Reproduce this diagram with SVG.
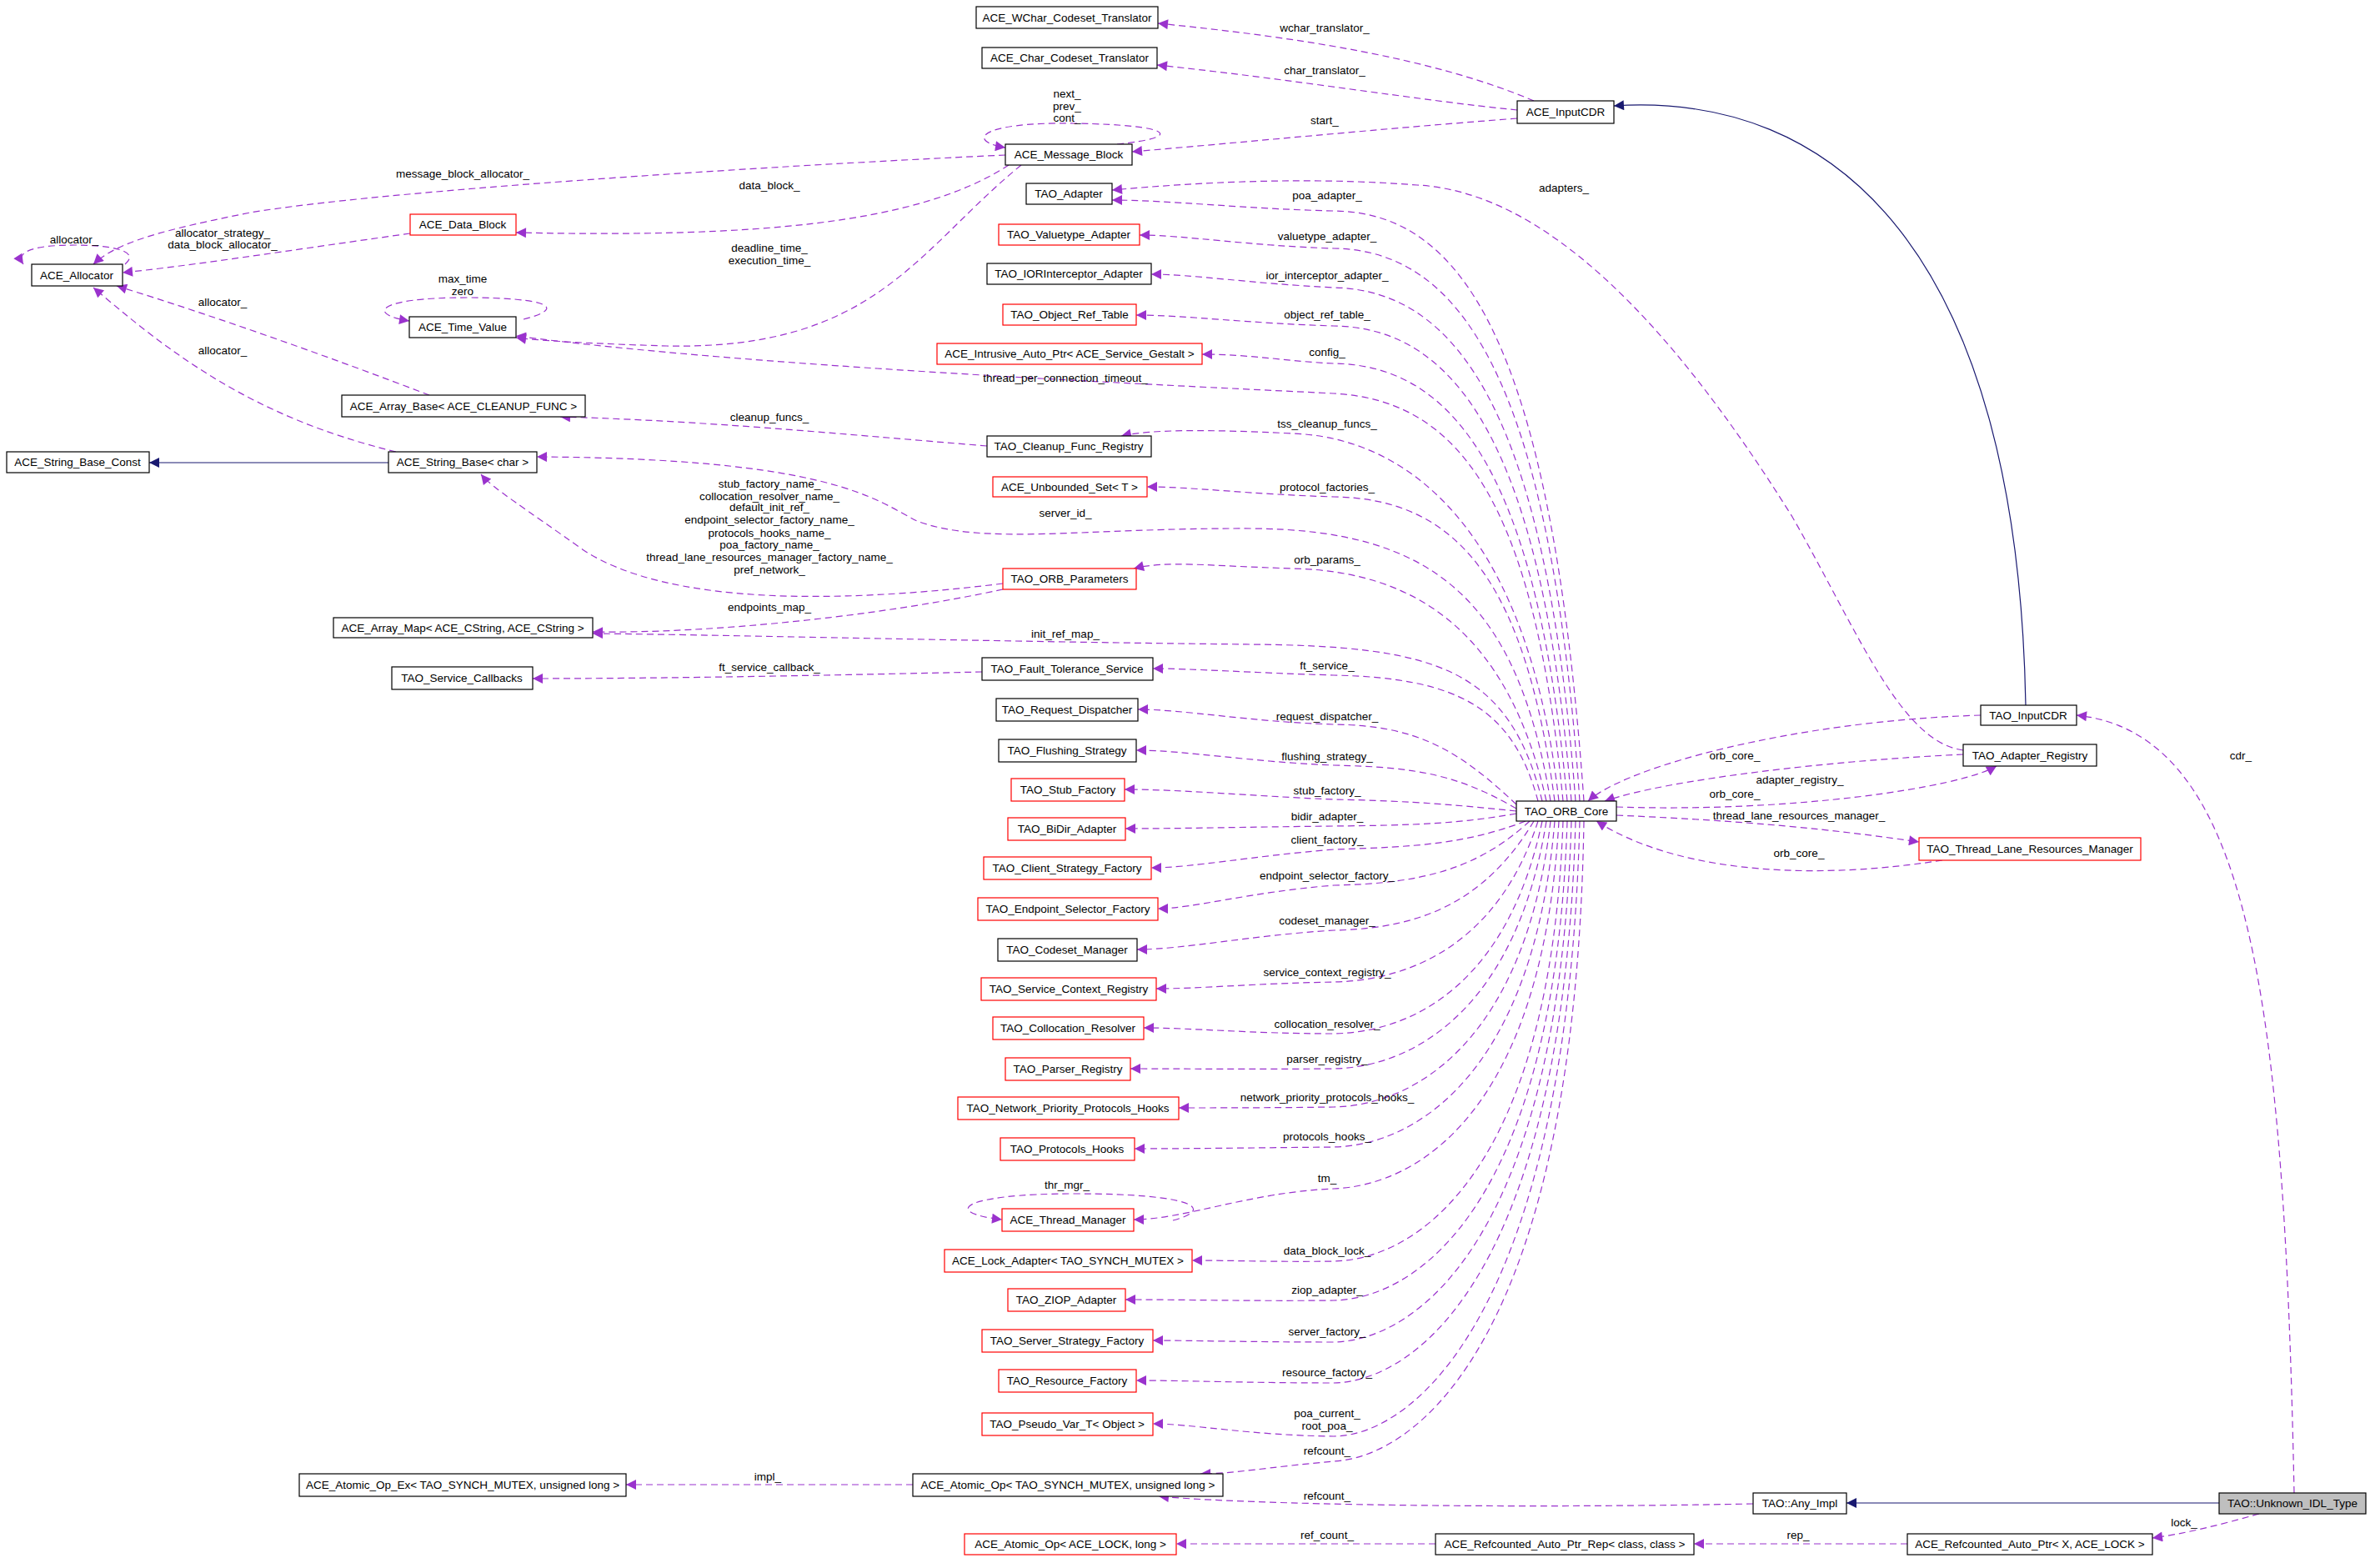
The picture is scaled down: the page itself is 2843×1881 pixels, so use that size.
<svg xmlns="http://www.w3.org/2000/svg" width="2843" height="1881" viewBox="0 0 2843 1881">
<defs>
<style>
text{font-family:"Liberation Sans",Arial,sans-serif;font-size:13.5px;fill:#000}
.n rect{fill:#fff;stroke:#000;stroke-width:1.2}
.r rect{stroke:#f00}
.g rect{fill:#bfbfbf}
.n text{text-anchor:middle}
.e path{fill:none;stroke:#9a32cd;stroke-width:1.2;stroke-dasharray:8,5;marker-end:url(#pa)}
.e path.i{stroke:#191970;stroke-dasharray:none;marker-end:url(#na)}
.l text{text-anchor:middle}
</style>
<marker id="pa" viewBox="0 0 10 10" refX="10" refY="5" markerWidth="16" markerHeight="12" markerUnits="userSpaceOnUse" orient="auto"><path d="M0,0L10,5L0,10z" fill="#9a32cd"/></marker>
<marker id="na" viewBox="0 0 10 10" refX="10" refY="5" markerWidth="16" markerHeight="12" markerUnits="userSpaceOnUse" orient="auto"><path d="M0,0L10,5L0,10z" fill="#191970"/></marker>
</defs>
<rect width="2843" height="1881" fill="#fff"/>
<g class="e">
<path d="M1840,121 C1720,70 1560,45 1389,28"/>
<path d="M1820,132 C1700,120 1550,95 1388,78"/>
<path d="M1820,142 C1650,155 1500,170 1358,182"/>
<path class="i" d="M2430,846 C2420,300 2200,110 1936,127"/>
<path d="M1340,173 C1420,165 1410,150 1290,148 C1170,146 1160,170 1206,177"/>
<path d="M1206,186 C900,200 450,230 300,255 C200,275 140,290 112,317"/>
<path d="M1210,198 C1100,270 900,285 619,279"/>
<path d="M1225,198 C1100,300 1050,420 800,415 C700,412 640,408 619,405"/>
<path d="M492,280 C350,300 220,320 147,327"/>
<path d="M150,317 C170,300 130,294 90,294 C30,294 20,305 28,317"/>
<path d="M515,474 C400,430 260,380 140,343"/>
<path d="M475,542 C300,500 200,420 112,345"/>
<path class="i" d="M466,555 L179,555"/>
<path d="M1184,535 C1000,520 850,505 672,500"/>
<path d="M628,383 C680,370 660,357 560,357 C450,357 440,377 491,385"/>
<path d="M1203,700 C1000,725 800,725 700,660 C630,610 590,585 577,569"/>
<path d="M1203,707 C1050,740 850,760 711,758"/>
<path d="M1178,806 C1000,810 800,814 639,814"/>
<path d="M1095,1781 L751,1781"/>
<path d="M2103,1804 C1800,1810 1500,1805 1390,1795"/>
<path d="M1722,1852 L1411,1852"/>
<path d="M2288,1852 L2032,1852"/>
<path d="M2710,1816 C2660,1830 2620,1840 2582,1845"/>
<path class="i" d="M2662,1803 L2215,1803"/>
<path d="M2752,1791 C2740,1200 2700,880 2491,858"/>
<path d="M2376,858 C2150,865 1950,920 1905,961"/>
<path d="M2355,905 C2200,912 2000,935 1925,961"/>
<path d="M1939,968 C2150,975 2350,945 2395,919"/>
<path d="M2355,900 C2280,890 2230,760 2150,620 C2000,380 1850,230 1700,222 C1550,210 1400,222 1334,228"/>
<path d="M1939,978 C2100,985 2200,995 2302,1010"/>
<path d="M2330,1032 C2150,1060 2000,1040 1915,985"/>
<path d="M1900,961 C1860,400 1750,255 1600,253 C1500,251 1400,240 1334,240"/>
<path d="M1895,961 C1860,450 1750,300 1600,298 C1500,295 1420,282 1367,282"/>
<path d="M1890,961 C1855,500 1750,348 1600,345 C1500,340 1430,329 1381,329"/>
<path d="M1885,961 C1850,540 1750,393 1600,391 C1500,388 1420,378 1363,378"/>
<path d="M1880,961 C1845,580 1750,438 1600,436 C1550,434 1500,425 1442,425"/>
<path d="M1875,961 C1840,600 1750,480 1600,472 C1400,462 900,440 619,403"/>
<path d="M1870,961 C1835,650 1700,525 1550,520 C1450,515 1380,515 1345,523"/>
<path d="M1865,961 C1830,700 1750,598 1600,596 C1500,593 1430,584 1376,584"/>
<path d="M1860,961 C1820,720 1720,635 1500,634 C1300,633 1180,655 1100,625 C1050,600 1000,550 644,548"/>
<path d="M1855,961 C1810,760 1700,685 1550,682 C1450,679 1400,672 1360,682"/>
<path d="M1850,961 C1810,800 1720,775 1500,773 C1200,770 900,762 711,760"/>
<path d="M1845,961 C1815,850 1750,813 1600,810 C1500,807 1430,802 1383,802"/>
<path d="M1819,965 C1750,900 1700,870 1600,869 C1500,866 1420,851 1365,851"/>
<path d="M1819,970 C1750,930 1700,920 1600,918 C1500,914 1420,900 1363,900"/>
<path d="M1819,973 C1750,966 1700,961 1600,959 C1500,955 1420,947 1349,947"/>
<path d="M1819,976 C1750,988 1700,990 1600,991 C1500,992 1420,994 1350,994"/>
<path d="M1830,985 C1760,1012 1700,1016 1600,1019 C1500,1027 1430,1041 1381,1041"/>
<path d="M1835,985 C1770,1045 1700,1060 1600,1062 C1500,1070 1430,1090 1389,1090"/>
<path d="M1840,985 C1780,1085 1700,1114 1600,1116 C1500,1122 1420,1139 1364,1139"/>
<path d="M1845,985 C1800,1125 1700,1176 1600,1178 C1500,1180 1440,1186 1387,1186"/>
<path d="M1850,985 C1810,1175 1700,1238 1600,1240 C1500,1240 1430,1233 1372,1233"/>
<path d="M1855,985 C1820,1205 1700,1280 1600,1282 C1500,1283 1420,1282 1356,1282"/>
<path d="M1860,985 C1830,1245 1700,1326 1600,1328 C1520,1329 1460,1329 1414,1329"/>
<path d="M1865,985 C1840,1285 1700,1374 1600,1376 C1500,1377 1420,1378 1361,1378"/>
<path d="M1870,985 C1850,1335 1700,1422 1600,1426 C1500,1430 1420,1463 1360,1463"/>
<path d="M1407,1464 C1460,1450 1430,1432 1290,1432 C1150,1432 1130,1455 1202,1463"/>
<path d="M1875,985 C1860,1405 1700,1511 1600,1513 C1530,1514 1480,1512 1430,1512"/>
<path d="M1880,985 C1865,1445 1700,1558 1600,1560 C1500,1561 1420,1559 1350,1559"/>
<path d="M1885,985 C1870,1485 1700,1608 1600,1610 C1500,1610 1430,1608 1383,1608"/>
<path d="M1890,985 C1875,1525 1700,1657 1600,1659 C1500,1659 1420,1656 1363,1656"/>
<path d="M1895,985 C1880,1565 1700,1722 1600,1723 C1500,1722 1430,1708 1383,1708"/>
<path d="M1900,985 C1890,1605 1700,1748 1600,1753 C1520,1760 1480,1768 1440,1768"/>
</g>
<g class="l">
<text x="1589" y="38">wchar_translator_</text>
<text x="1589" y="89">char_translator_</text>
<text x="1589" y="149">start_</text>
<text x="1280" y="117">next_</text><text x="1280" y="132">prev_</text><text x="1280" y="146">cont_</text>
<text x="555" y="213">message_block_allocator_</text>
<text x="923" y="227">data_block_</text>
<text x="89" y="292">allocator_</text>
<text x="267" y="284">allocator_strategy_</text><text x="267" y="298">data_block_allocator_</text>
<text x="923" y="302">deadline_time_</text><text x="923" y="317">execution_time_</text>
<text x="555" y="339">max_time</text><text x="555" y="354">zero</text>
<text x="267" y="367">allocator_</text>
<text x="267" y="425">allocator_</text>
<text x="923" y="505">cleanup_funcs_</text>
<text x="923" y="585">stub_factory_name_</text>
<text x="923" y="600">collocation_resolver_name_</text>
<text x="923" y="613">default_init_ref_</text>
<text x="923" y="628">endpoint_selector_factory_name_</text>
<text x="923" y="644">protocols_hooks_name_</text>
<text x="923" y="658">poa_factory_name_</text>
<text x="923" y="673">thread_lane_resources_manager_factory_name_</text>
<text x="923" y="688">pref_network_</text>
<text x="923" y="733">endpoints_map_</text>
<text x="923" y="805">ft_service_callback_</text>
<text x="1278" y="458">thread_per_connection_timeout_</text>
<text x="1278" y="620">server_id_</text>
<text x="1278" y="765">init_ref_map_</text>
<text x="1876" y="230">adapters_</text>
<text x="1592" y="239">poa_adapter_</text>
<text x="1592" y="288">valuetype_adapter_</text>
<text x="1592" y="335">ior_interceptor_adapter_</text>
<text x="1592" y="382">object_ref_table_</text>
<text x="1592" y="427">config_</text>
<text x="1592" y="513">tss_cleanup_funcs_</text>
<text x="1592" y="589">protocol_factories_</text>
<text x="1592" y="676">orb_params_</text>
<text x="1592" y="803">ft_service_</text>
<text x="1592" y="864">request_dispatcher_</text>
<text x="1592" y="912">flushing_strategy_</text>
<text x="1592" y="953">stub_factory_</text>
<text x="1592" y="984">bidir_adapter_</text>
<text x="1592" y="1012">client_factory_</text>
<text x="1592" y="1055">endpoint_selector_factory_</text>
<text x="1592" y="1109">codeset_manager_</text>
<text x="1592" y="1171">service_context_registry_</text>
<text x="1592" y="1233">collocation_resolver_</text>
<text x="1592" y="1275">parser_registry_</text>
<text x="1592" y="1321">network_priority_protocols_hooks_</text>
<text x="1592" y="1368">protocols_hooks_</text>
<text x="1592" y="1418">tm_</text>
<text x="1280" y="1426">thr_mgr_</text>
<text x="1592" y="1505">data_block_lock_</text>
<text x="1592" y="1552">ziop_adapter_</text>
<text x="1592" y="1602">server_factory_</text>
<text x="1592" y="1651">resource_factory_</text>
<text x="1592" y="1700">poa_current_</text><text x="1592" y="1715">root_poa_</text>
<text x="1592" y="1745">refcount_</text>
<text x="921" y="1776">impl_</text>
<text x="1592" y="1799">refcount_</text>
<text x="1592" y="1846">ref_count_</text>
<text x="2157" y="1846">rep_</text>
<text x="2620" y="1831">lock_</text>
<text x="2688" y="911">cdr_</text>
<text x="2081" y="911">orb_core_</text>
<text x="2081" y="957">orb_core_</text>
<text x="2159" y="940">adapter_registry_</text>
<text x="2158" y="983">thread_lane_resources_manager_</text>
<text x="2158" y="1028">orb_core_</text>
</g>
<g id="n_wchar" class="n"><rect x="1171" y="8" width="218" height="26"/><text x="1280" y="26">ACE_WChar_Codeset_Translator</text></g>
<g id="n_char" class="n"><rect x="1178" y="57" width="210" height="25"/><text x="1283" y="74">ACE_Char_Codeset_Translator</text></g>
<g id="n_acecdr" class="n"><rect x="1820" y="121" width="116" height="27"/><text x="1878" y="139">ACE_InputCDR</text></g>
<g id="n_msgblock" class="n"><rect x="1206" y="173" width="152" height="25"/><text x="1282" y="190">ACE_Message_Block</text></g>
<g id="n_adapter" class="n"><rect x="1231" y="220" width="103" height="25"/><text x="1282" y="237">TAO_Adapter</text></g>
<g id="n_valuetype" class="n r"><rect x="1198" y="269" width="169" height="25"/><text x="1282" y="286">TAO_Valuetype_Adapter</text></g>
<g id="n_ior" class="n"><rect x="1184" y="316" width="197" height="25"/><text x="1282" y="333">TAO_IORInterceptor_Adapter</text></g>
<g id="n_objref" class="n r"><rect x="1203" y="365" width="160" height="25"/><text x="1283" y="382">TAO_Object_Ref_Table</text></g>
<g id="n_intrusive" class="n r"><rect x="1124" y="412" width="318" height="25"/><text x="1283" y="429">ACE_Intrusive_Auto_Ptr&lt; ACE_Service_Gestalt &gt;</text></g>
<g id="n_cleanup" class="n"><rect x="1184" y="523" width="197" height="25"/><text x="1282" y="540">TAO_Cleanup_Func_Registry</text></g>
<g id="n_unbounded" class="n r"><rect x="1191" y="572" width="185" height="24"/><text x="1283" y="589">ACE_Unbounded_Set&lt; T &gt;</text></g>
<g id="n_orbparams" class="n r"><rect x="1203" y="682" width="160" height="25"/><text x="1283" y="699">TAO_ORB_Parameters</text></g>
<g id="n_allocator" class="n"><rect x="38" y="317" width="109" height="26"/><text x="92" y="335">ACE_Allocator</text></g>
<g id="n_datablock" class="n r"><rect x="492" y="257" width="127" height="25"/><text x="555" y="274">ACE_Data_Block</text></g>
<g id="n_timevalue" class="n"><rect x="491" y="380" width="128" height="25"/><text x="555" y="397">ACE_Time_Value</text></g>
<g id="n_arraybase" class="n"><rect x="410" y="474" width="292" height="26"/><text x="556" y="492">ACE_Array_Base&lt; ACE_CLEANUP_FUNC &gt;</text></g>
<g id="n_strconst" class="n"><rect x="8" y="542" width="171" height="25"/><text x="93" y="559">ACE_String_Base_Const</text></g>
<g id="n_strbase" class="n"><rect x="466" y="542" width="178" height="25"/><text x="555" y="559">ACE_String_Base&lt; char &gt;</text></g>
<g id="n_arraymap" class="n"><rect x="400" y="741" width="311" height="24"/><text x="555" y="758">ACE_Array_Map&lt; ACE_CString, ACE_CString &gt;</text></g>
<g id="n_svccb" class="n"><rect x="470" y="800" width="169" height="27"/><text x="554" y="818">TAO_Service_Callbacks</text></g>
<g id="n_atomicex" class="n"><rect x="359" y="1768" width="392" height="27"/><text x="555" y="1786">ACE_Atomic_Op_Ex&lt; TAO_SYNCH_MUTEX, unsigned long &gt;</text></g>
<g id="n_ft" class="n"><rect x="1178" y="789" width="205" height="27"/><text x="1280" y="807">TAO_Fault_Tolerance_Service</text></g>
<g id="n_reqdisp" class="n"><rect x="1195" y="838" width="170" height="27"/><text x="1280" y="856">TAO_Request_Dispatcher</text></g>
<g id="n_flush" class="n"><rect x="1198" y="887" width="165" height="27"/><text x="1280" y="905">TAO_Flushing_Strategy</text></g>
<g id="n_stub" class="n r"><rect x="1213" y="934" width="136" height="27"/><text x="1281" y="952">TAO_Stub_Factory</text></g>
<g id="n_bidir" class="n r"><rect x="1209" y="981" width="141" height="27"/><text x="1280" y="999">TAO_BiDir_Adapter</text></g>
<g id="n_client" class="n r"><rect x="1180" y="1028" width="201" height="27"/><text x="1280" y="1046">TAO_Client_Strategy_Factory</text></g>
<g id="n_endpoint" class="n r"><rect x="1173" y="1077" width="216" height="27"/><text x="1281" y="1095">TAO_Endpoint_Selector_Factory</text></g>
<g id="n_codeset" class="n"><rect x="1197" y="1126" width="167" height="27"/><text x="1280" y="1144">TAO_Codeset_Manager</text></g>
<g id="n_svcctx" class="n r"><rect x="1177" y="1173" width="210" height="27"/><text x="1282" y="1191">TAO_Service_Context_Registry</text></g>
<g id="n_colloc" class="n r"><rect x="1191" y="1220" width="181" height="27"/><text x="1281" y="1238">TAO_Collocation_Resolver</text></g>
<g id="n_parser" class="n r"><rect x="1206" y="1269" width="150" height="27"/><text x="1281" y="1287">TAO_Parser_Registry</text></g>
<g id="n_netprio" class="n r"><rect x="1149" y="1316" width="265" height="27"/><text x="1281" y="1334">TAO_Network_Priority_Protocols_Hooks</text></g>
<g id="n_prothooks" class="n r"><rect x="1200" y="1365" width="161" height="27"/><text x="1280" y="1383">TAO_Protocols_Hooks</text></g>
<g id="n_thrmgr" class="n r"><rect x="1202" y="1450" width="158" height="27"/><text x="1281" y="1468">ACE_Thread_Manager</text></g>
<g id="n_lockadapter" class="n r"><rect x="1133" y="1499" width="297" height="27"/><text x="1281" y="1517">ACE_Lock_Adapter&lt; TAO_SYNCH_MUTEX &gt;</text></g>
<g id="n_ziop" class="n r"><rect x="1209" y="1546" width="141" height="27"/><text x="1279" y="1564">TAO_ZIOP_Adapter</text></g>
<g id="n_server" class="n r"><rect x="1178" y="1595" width="205" height="27"/><text x="1280" y="1613">TAO_Server_Strategy_Factory</text></g>
<g id="n_resource" class="n r"><rect x="1198" y="1643" width="165" height="27"/><text x="1280" y="1661">TAO_Resource_Factory</text></g>
<g id="n_pseudo" class="n r"><rect x="1178" y="1695" width="205" height="27"/><text x="1280" y="1713">TAO_Pseudo_Var_T&lt; Object &gt;</text></g>
<g id="n_atomic" class="n"><rect x="1095" y="1768" width="372" height="27"/><text x="1281" y="1786">ACE_Atomic_Op&lt; TAO_SYNCH_MUTEX, unsigned long &gt;</text></g>
<g id="n_atomiclock" class="n r"><rect x="1157" y="1840" width="254" height="25"/><text x="1284" y="1857">ACE_Atomic_Op&lt; ACE_LOCK, long &gt;</text></g>
<g id="n_rep" class="n"><rect x="1722" y="1840" width="310" height="25"/><text x="1877" y="1857">ACE_Refcounted_Auto_Ptr_Rep&lt; class, class &gt;</text></g>
<g id="n_autoptr" class="n"><rect x="2288" y="1840" width="294" height="25"/><text x="2435" y="1857">ACE_Refcounted_Auto_Ptr&lt; X, ACE_LOCK &gt;</text></g>
<g id="n_anyimpl" class="n"><rect x="2103" y="1791" width="112" height="25"/><text x="2159" y="1808">TAO::Any_Impl</text></g>
<g id="n_unknown" class="n g"><rect x="2662" y="1791" width="176" height="25"/><text x="2750" y="1808">TAO::Unknown_IDL_Type</text></g>
<g id="n_orbcore" class="n"><rect x="1819" y="961" width="120" height="24"/><text x="1879" y="978">TAO_ORB_Core</text></g>
<g id="n_taocdr" class="n"><rect x="2376" y="846" width="115" height="24"/><text x="2433" y="863">TAO_InputCDR</text></g>
<g id="n_adreg" class="n"><rect x="2355" y="893" width="160" height="26"/><text x="2435" y="911">TAO_Adapter_Registry</text></g>
<g id="n_thrlane" class="n r"><rect x="2302" y="1005" width="266" height="27"/><text x="2435" y="1023">TAO_Thread_Lane_Resources_Manager</text></g>
</svg>
